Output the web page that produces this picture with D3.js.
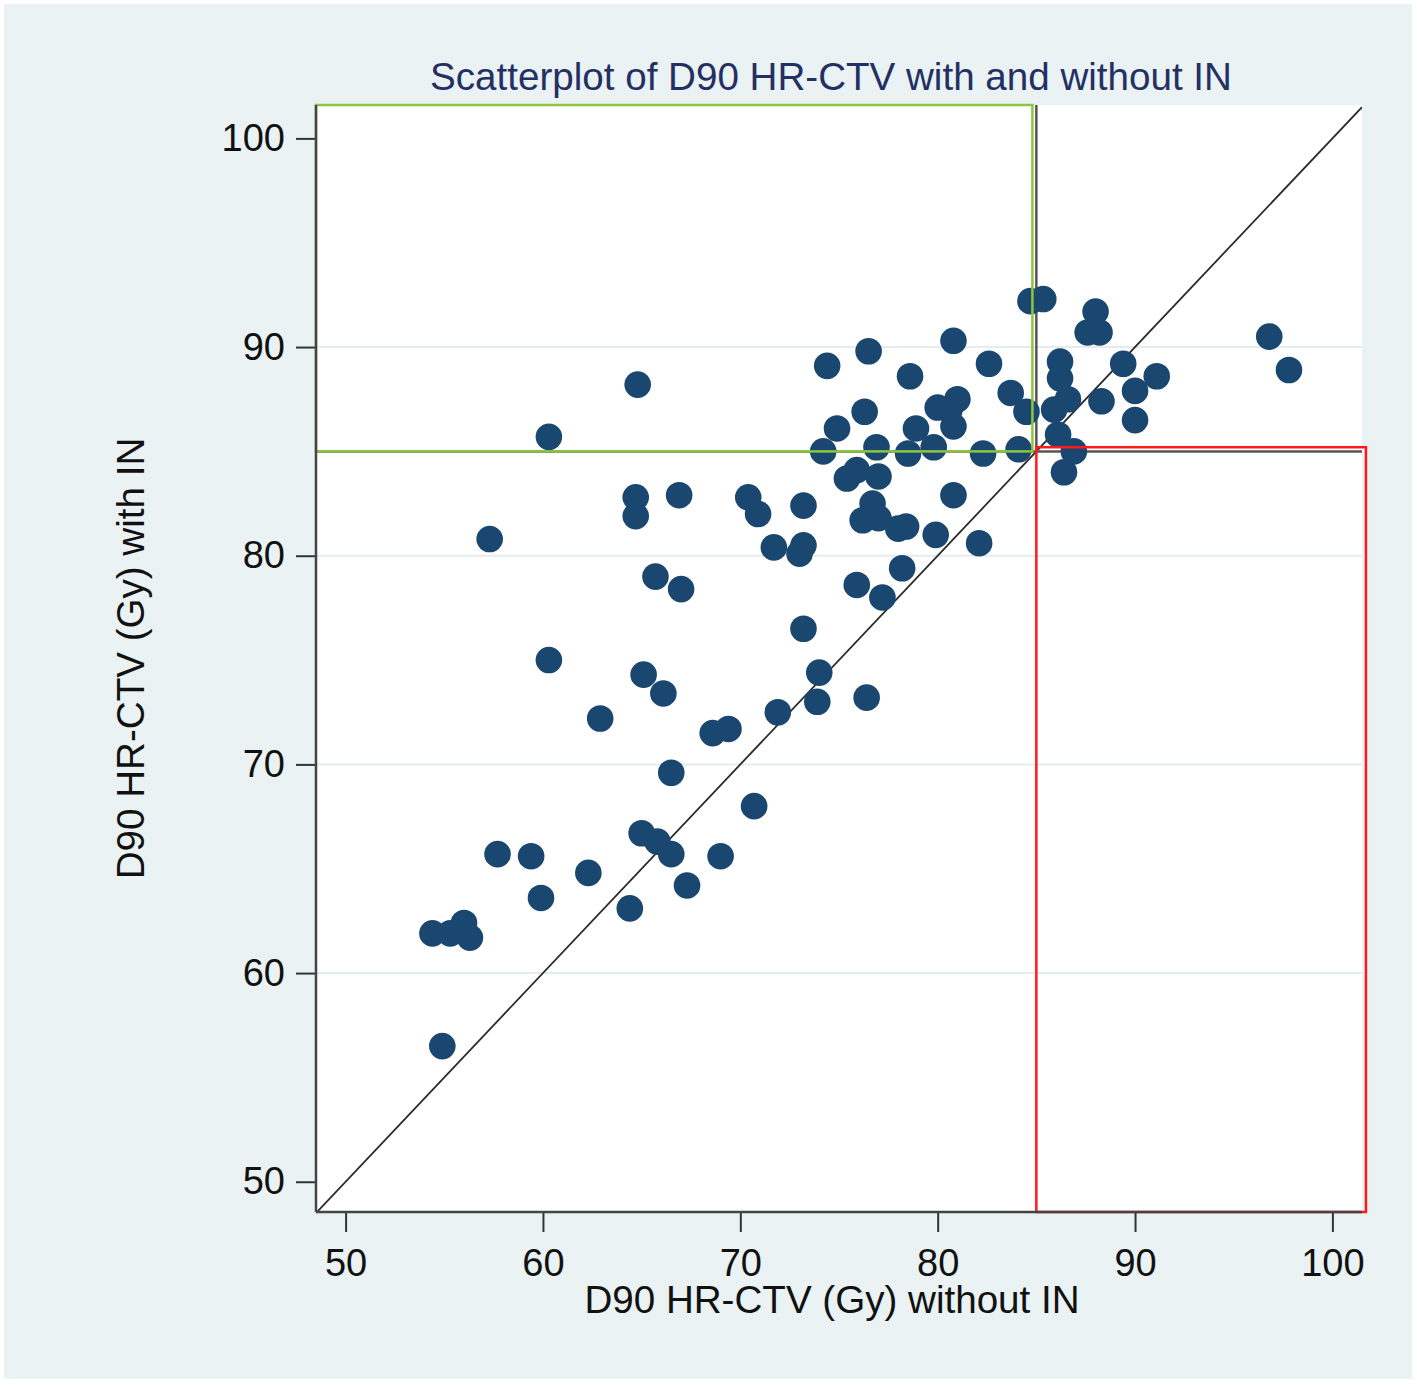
<!DOCTYPE html>
<html>
<head>
<meta charset="utf-8">
<script src="https://cdn.jsdelivr.net/npm/d3@7"></script>
<style>
  html, body { margin: 0; padding: 0; background: #ffffff; }
  svg { display: block; }
  text { font-family: "Liberation Sans", Arial, sans-serif; }
</style>
</head>
<body>
<svg id="chart" width="1417" height="1385"></svg>
<script>
// ---- data ----
const titleText = "Scatterplot of D90 HR-CTV with and without IN";
const xTitle = "D90 HR-CTV (Gy) without IN";
const yTitle = "D90 HR-CTV (Gy) with IN";
const xTicks = [50, 60, 70, 80, 90, 100];
const yTicks = [50, 60, 70, 80, 90, 100];
const gridValues = [60, 70, 80, 90];
const cutoff = 85;
const xDomain = [48.5, 101.5];
const yDomain = [48.55, 101.6];
// D90 without IN (x)
const withoutIN = [
  84.7, 85.35, 88.0, 87.6, 88.2, 96.8, 97.8, 89.4, 91.1, 90.0, 90.0, 88.3, 86.2, 86.2, 86.6, 85.9, 84.5, 83.7, 86.1, 86.9, 86.4, 84.1,
  80.8, 76.5, 74.4, 82.6, 78.6, 81.0, 80.6, 80.0, 80.8, 76.3, 74.9, 78.9, 74.2, 76.9, 78.5, 79.8, 82.3, 75.4, 75.9, 77.0,
  80.8, 76.7, 76.2, 77.0, 78.4, 78.0, 79.9, 82.1, 73.2, 71.7, 73.2, 73.0, 78.2, 75.9, 77.2, 73.2, 74.0, 73.9, 76.4, 71.9,
  68.6, 69.4, 70.7,
  64.8, 60.3, 64.7, 64.7, 66.9, 57.3, 70.4, 70.9, 65.7, 67.0, 60.3, 65.1, 66.1, 62.9, 66.5, 57.7, 59.4, 65.0, 65.8, 66.5,
  69.0, 62.3, 59.9, 67.3, 64.4, 54.4, 55.3, 56.0, 56.3, 54.9
];
// D90 with IN (y)
const withIN = [
  92.2, 92.3, 91.7, 90.7, 90.7, 90.5, 88.9, 89.2, 88.6, 87.9, 86.5, 87.4, 89.3, 88.5, 87.5, 87.0, 86.9, 87.8, 85.8, 85.0, 84.0, 85.1,
  90.3, 89.8, 89.1, 89.2, 88.6, 87.5, 87.0, 87.1, 86.2, 86.9, 86.1, 86.1, 85.0, 85.2, 84.9, 85.2, 84.9, 83.7, 84.1, 83.8,
  82.9, 82.5, 81.7, 81.8, 81.4, 81.3, 81.0, 80.6, 82.4, 80.4, 80.5, 80.1, 79.4, 78.6, 78.0, 76.5, 74.4, 73.0, 73.2, 72.5,
  71.5, 71.7, 68.0,
  88.2, 85.7, 82.8, 81.9, 82.9, 80.8, 82.8, 82.0, 79.0, 78.4, 75.0, 74.3, 73.4, 72.2, 69.6, 65.7, 65.6, 66.7, 66.3, 65.7,
  65.6, 64.8, 63.6, 64.2, 63.1, 61.9, 61.9, 62.4, 61.7, 56.5
];
// highlighted regions [x0, x1, y0, y1] in data units
const greenBox = [48.5, 84.8, 85.0, 101.6];
const redBox = [85.0, 101.7, 48.55, 85.2];

// ---- layout ----
const W = 1417, H = 1385;
const plot = { left: 316, right: 1362, top: 105, bottom: 1212 };

const svg = d3.select("#chart");
svg.append("rect").attr("x", 0).attr("y", 0).attr("width", W).attr("height", H).attr("fill", "#ffffff");
svg.append("rect").attr("x", 4).attr("y", 4).attr("width", W - 9).attr("height", H - 10).attr("fill", "#eaf2f3");

const x = d3.scaleLinear().domain(xDomain).range([plot.left, plot.right]);
const y = d3.scaleLinear().domain(yDomain).range([plot.bottom, plot.top]);

// plot region
svg.append("rect")
  .attr("x", plot.left).attr("y", plot.top)
  .attr("width", plot.right - plot.left).attr("height", plot.bottom - plot.top)
  .attr("fill", "#ffffff");

// gridlines
svg.append("g").selectAll("line").data(gridValues).join("line")
  .attr("x1", plot.left).attr("x2", plot.right)
  .attr("y1", d => y(d)).attr("y2", d => y(d))
  .attr("stroke", "#e3edf0").attr("stroke-width", 2);

svg.append("clipPath").attr("id", "clip").append("rect")
  .attr("x", plot.left).attr("y", plot.top)
  .attr("width", plot.right - plot.left).attr("height", plot.bottom - plot.top);

// diagonal y = x
svg.append("line")
  .attr("clip-path", "url(#clip)")
  .attr("x1", x(xDomain[0])).attr("y1", y(xDomain[0]))
  .attr("x2", x(xDomain[1])).attr("y2", y(xDomain[1]))
  .attr("stroke", "#2b2b2b").attr("stroke-width", 1.8);

// cutoff lines
svg.append("line")
  .attr("x1", plot.left).attr("x2", plot.right)
  .attr("y1", y(cutoff)).attr("y2", y(cutoff))
  .attr("stroke", "#555555").attr("stroke-width", 2.5);
svg.append("line")
  .attr("x1", x(cutoff)).attr("x2", x(cutoff))
  .attr("y1", y(cutoff)).attr("y2", plot.top)
  .attr("stroke", "#555555").attr("stroke-width", 2.5);

// boxes
function box(b, color) {
  svg.append("rect")
    .attr("x", x(b[0])).attr("y", y(b[3]))
    .attr("width", x(b[1]) - x(b[0])).attr("height", y(b[2]) - y(b[3]))
    .attr("fill", "none").attr("stroke", color).attr("stroke-width", 2.5);
}

// points
const pts = withoutIN.map((v, i) => ({ x: v, y: withIN[i] }));
svg.append("g").selectAll("circle").data(pts).join("circle")
  .attr("cx", d => x(d.x)).attr("cy", d => y(d.y)).attr("r", 13.3)
  .attr("fill", "#1a476f");

box(greenBox, "#8cc63f");
box(redBox, "#ff1a1a");

// axes
const xAxis = d3.axisBottom(x).tickValues(xTicks).tickSize(20).tickPadding(15).tickSizeOuter(0);
const gx = svg.append("g").attr("transform", `translate(0,${plot.bottom})`).call(xAxis);
gx.select(".domain").remove();
gx.selectAll(".tick line").attr("stroke", "#333").attr("stroke-width", 2);
gx.selectAll(".tick text").attr("font-size", 38).attr("fill", "#111")
  .attr("font-family", "'Liberation Sans', Arial, sans-serif").attr("dy", "0.75em");

const yAxis = d3.axisLeft(y).tickValues(yTicks).tickSize(20).tickPadding(11).tickSizeOuter(0);
const gy = svg.append("g").attr("transform", `translate(${plot.left},0)`).call(yAxis);
gy.select(".domain").remove();
gy.selectAll(".tick line").attr("stroke", "#333").attr("stroke-width", 2);
gy.selectAll(".tick text").attr("font-size", 38).attr("fill", "#111")
  .attr("font-family", "'Liberation Sans', Arial, sans-serif");

// axis lines
svg.append("line").attr("x1", plot.left).attr("x2", plot.left).attr("y1", plot.top).attr("y2", plot.bottom)
  .attr("stroke", "#444").attr("stroke-width", 2.5);
svg.append("line").attr("x1", plot.left).attr("x2", plot.right).attr("y1", plot.bottom).attr("y2", plot.bottom)
  .attr("stroke", "#444").attr("stroke-width", 2.5);

// titles
svg.append("text").attr("x", 831).attr("y", 90).attr("text-anchor", "middle")
  .attr("font-size", 38.6).attr("fill", "#243063").text(titleText);
svg.append("text").attr("x", 832).attr("y", 1313).attr("text-anchor", "middle")
  .attr("font-size", 38.6).attr("fill", "#111").text(xTitle);
svg.append("text").attr("transform", `translate(144,${(plot.top + plot.bottom) / 2}) rotate(-90)`)
  .attr("text-anchor", "middle").attr("font-size", 38.6).attr("fill", "#111").text(yTitle);
</script>
</body>
</html>
